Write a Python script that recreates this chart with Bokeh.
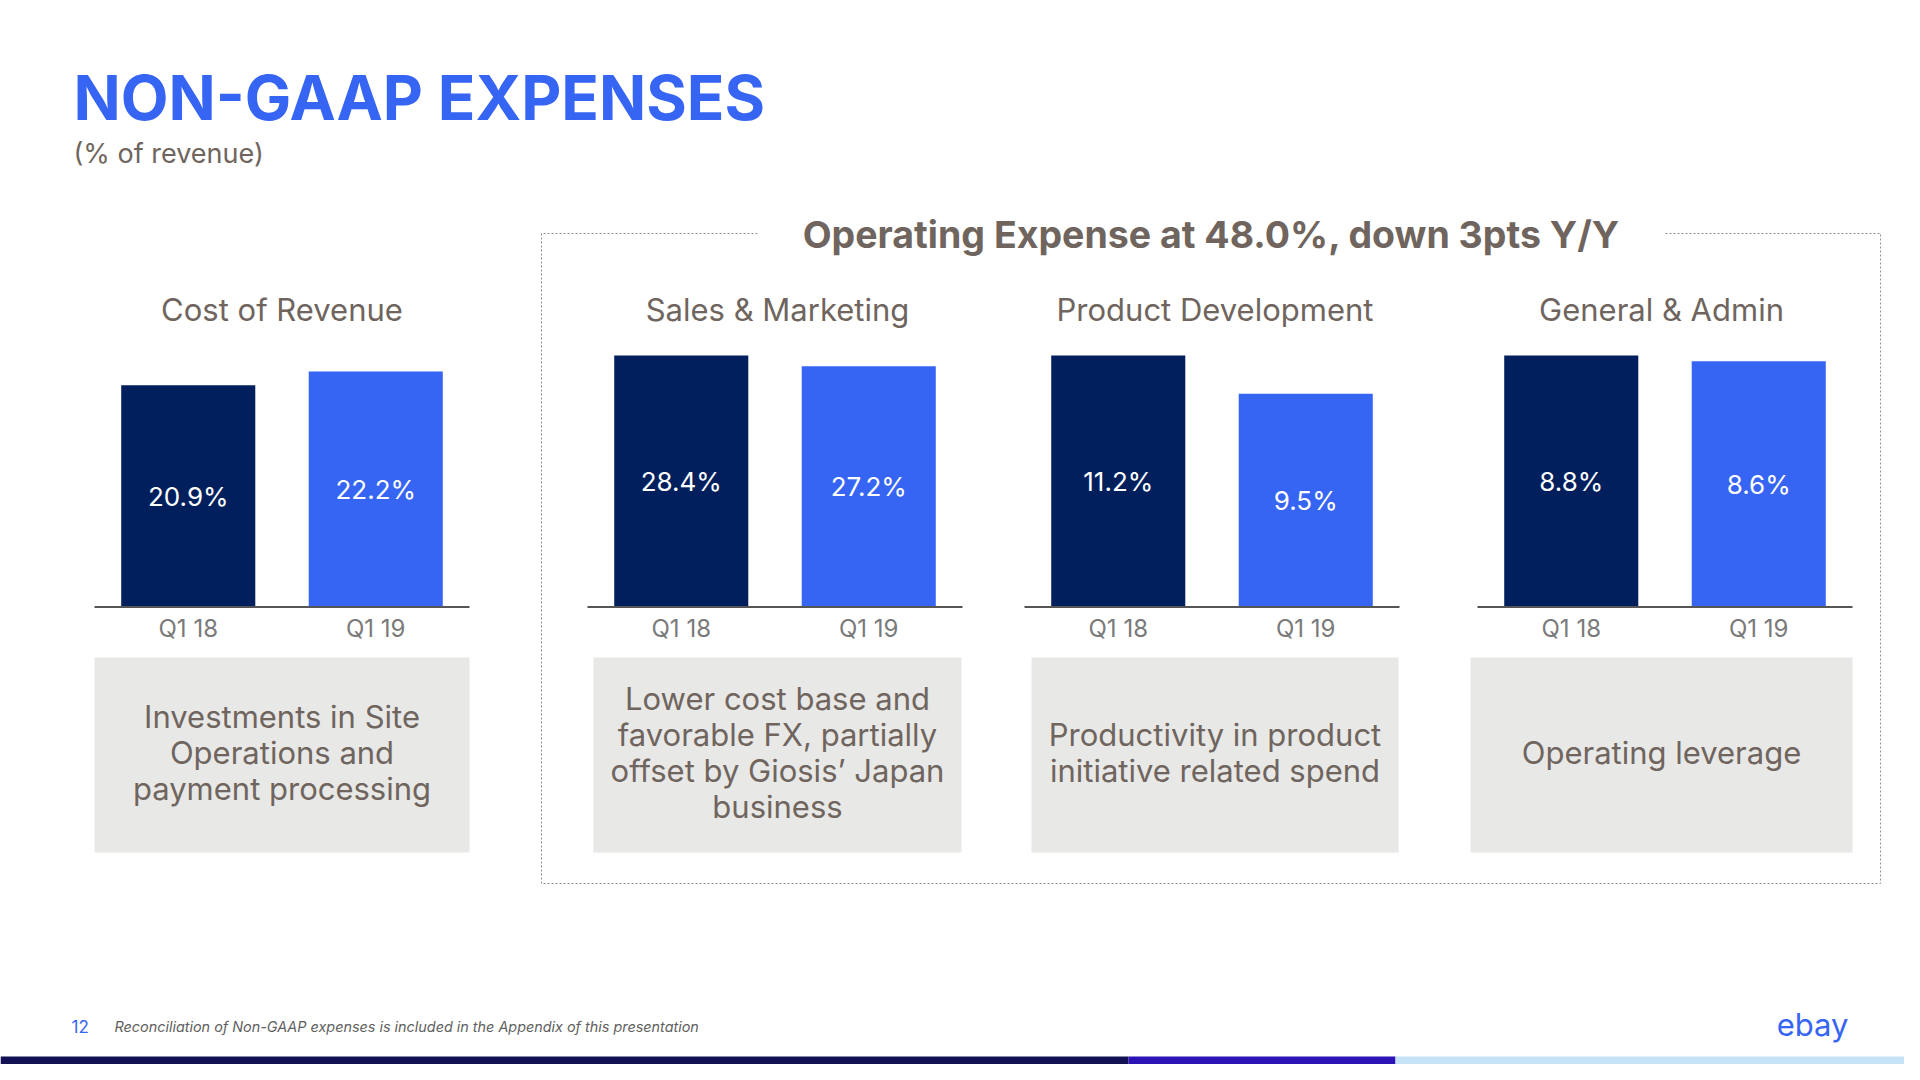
from bokeh.plotting import figure
from bokeh.models import Range1d
from bokeh.core.properties import value
from bokeh.embed import file_html
from bokeh.resources import INLINE

# ---------------- data ----------------
title = "NON-GAAP EXPENSES"
subtitle = "(% of revenue)"
group_title = "Operating Expense at 48.0%, down 3pts Y/Y"
panel_names = ["Cost of Revenue", "Sales & Marketing", "Product Development", "General & Admin"]
quarters = ["Q1 18", "Q1 19"]
q1_18 = [20.9, 28.4, 11.2, 8.8]
q1_19 = [22.2, 27.2, 9.5, 8.6]
panel_scale_max = [23.7, 28.4, 11.2, 8.8]   # value reached at the top of each panel's plotting area
notes = [
    ["Investments in Site", "Operations and", "payment processing"],
    ["Lower cost base and", "favorable FX, partially", "offset by Giosis\u2019 Japan", "business"],
    ["Productivity in product", "initiative related spend"],
    ["Operating leverage"],
]
page_number = "12"
footnote = "Reconciliation of Non-GAAP expenses is included in the Appendix of this presentation"
logo = "ebay"

# ---------------- layout (screen pixels) ----------------
W, H = 1904, 1064
panel_left = [94, 587, 1024, 1477]
panel_w = 375
base_y = 606.5
top_y = 355
bar_w = 0.715
note_box = [(94, 469), (593, 961), (1031, 1398), (1470, 1852)]
note_top, note_bot = 657, 852

FONT = value("Inter")
NAVY = "#001f5c"
BLUE = "#3665f3"
WARM = "#6f655e"
CATG = "#7a7a7a"

p = figure(width=W, height=H, x_range=Range1d(0, W), y_range=Range1d(H, 0),
           output_backend="svg", toolbar_location=None, x_axis_type=None, y_axis_type=None,
           min_border=0)
p.outline_line_color = None
p.background_fill_color = "white"
p.border_fill_color = "white"
p.xgrid.visible = False
p.ygrid.visible = False

# header
p.text(x=[73], y=[97], text=[title], text_font=FONT, text_font_size="62px", text_font_style="bold",
       text_color=BLUE, text_align="left", text_baseline="middle")
p.text(x=[73], y=[153], text=[subtitle], text_font=FONT, text_font_size="27px",
       text_color=WARM, text_align="left", text_baseline="middle")

# dotted group frame with gap for its title
p.line(x=[757, 541, 541, 1880, 1880, 1665], y=[233, 233, 883, 883, 233, 233],
       line_color="#8f8f8f", line_width=1, line_dash="2 2")
p.text(x=[1211], y=[234], text=[group_title], text_font=FONT, text_font_size="37.5px",
       text_font_style="bold", text_color=WARM, text_align="center", text_baseline="middle")

colors = [NAVY, BLUE]
for i in range(4):
    k = (base_y - top_y) / panel_scale_max[i]          # px per percentage point
    y0 = -(H - base_y) / k
    y1 = panel_scale_max[i] + top_y / k
    unit = panel_w / 2.0
    x0 = -0.5 - panel_left[i] / unit
    x1 = x0 + W / unit
    xr, yr = f"x{i}", f"y{i}"
    p.extra_x_ranges[xr] = Range1d(x0, x1)
    p.extra_y_ranges[yr] = Range1d(y0, y1)

    vals = [q1_18[i], q1_19[i]]
    p.vbar(x=[0, 1], top=vals, bottom=0, width=bar_w, fill_color=colors, line_color=None,
           x_range_name=xr, y_range_name=yr)
    p.segment(x0=[-0.5], y0=[0], x1=[1.5], y1=[0], line_color="#555555", line_width=2,
              x_range_name=xr, y_range_name=yr)
    p.text(x=[0, 1], y=[v / 2 for v in vals], text=[f"{v:.1f}%" for v in vals], text_font=FONT,
           text_font_size="26px", text_color="white", text_align="center", text_baseline="middle",
           x_range_name=xr, y_range_name=yr)
    p.text(x=[0, 1], y=[628, 628], text=quarters, text_font=FONT, text_font_size="24px",
           text_color=CATG, text_align="center", text_baseline="middle", x_range_name=xr)

    bl, br = note_box[i]
    cx = (bl + br) / 2
    p.text(x=[cx], y=[309], text=[panel_names[i]], text_font=FONT, text_font_size="31px",
           text_color=WARM, text_align="center", text_baseline="middle")
    p.quad(left=[bl], right=[br], top=[note_top], bottom=[note_bot], fill_color="#e8e8e6",
           line_color=None)
    n = len(notes[i])
    ys = [752 + (j - (n - 1) / 2) * 36 for j in range(n)]
    p.text(x=[cx] * n, y=ys, text=notes[i], text_font=FONT, text_font_size="31px",
           text_color=WARM, text_align="center", text_baseline="middle")

# footer
p.text(x=[71], y=[1026], text=[page_number], text_font=FONT, text_font_size="17px",
       text_color=BLUE, text_align="left", text_baseline="middle")
p.text(x=[114], y=[1026], text=[footnote], text_font=FONT, text_font_size="14.4px",
       text_font_style="italic", text_color="#5f5f5f", text_align="left", text_baseline="middle")
p.text(x=[1812], y=[1024], text=[logo], text_font=FONT, text_font_size="31px",
       text_color=BLUE, text_align="center", text_baseline="middle")
p.quad(left=[0, 1128, 1395], right=[1128, 1395, W], top=[1056] * 3, bottom=[H] * 3,
       fill_color=["#121153", "#2b13b6", "#c6e2f6"], line_color=None)

open("out.html", "w").write(file_html(p, INLINE))
